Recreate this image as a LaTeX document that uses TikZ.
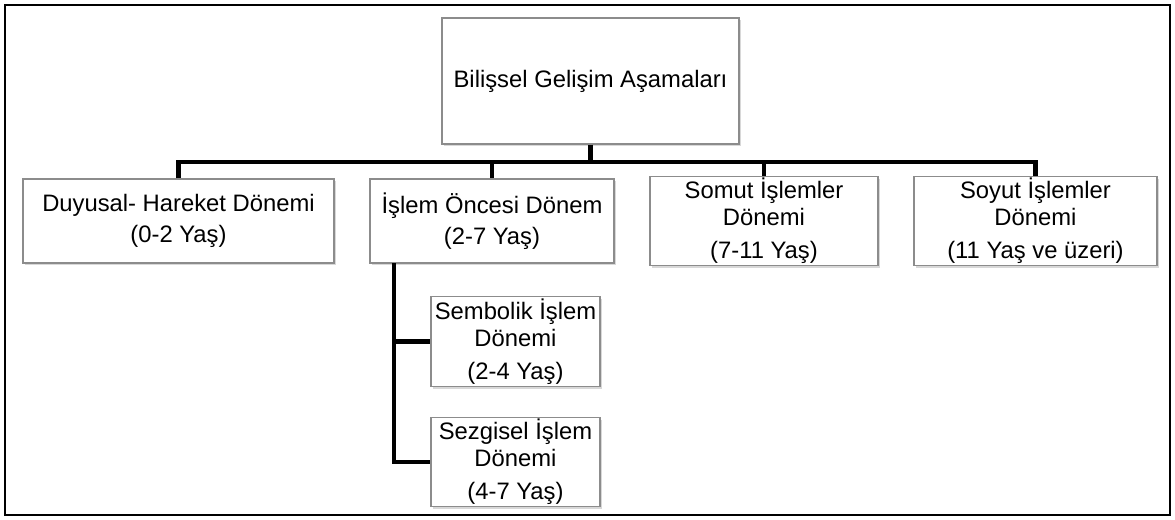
\documentclass[tikz,border=0pt]{standalone}
\usepackage{fontspec}
\setmainfont{Liberation Sans}
\usetikzlibrary{shadows}
\begin{document}
\begin{tikzpicture}[x=0.5pt,y=-0.5pt,
    box/.style={draw=black!45, line width=0.6pt, fill=white, align=center,
      inner sep=1pt, minimum height=42pt,
      font=\fontsize{11.9pt}{13.5pt}\selectfont,
      drop shadow={shadow xshift=0.8pt, shadow yshift=-1.2pt, fill=black!30}},
    conn/.style={line width=2.3pt}]
  \useasboundingbox (0,0) rectangle (1175,520);
  \draw[line width=1.2pt] (5,5) rectangle (1170,515);
  % boxes
  \node[box, minimum width=148.5pt, minimum height=63pt] (root) at (590.5,81)
    {Bilişsel Gelişim Aşamaları};
  \node[box, minimum width=155.5pt] (duy) at (178.5,221)
    {Duyusal- Hareket Dönemi\\[2pt](0-2 Yaş)};
  \node[box, minimum width=122pt] (isl) at (492,221)
    {İşlem Öncesi Dönem\\[2pt](2-7 Yaş)};
  \node[box, minimum width=114pt] (som) at (764,221)
    {Somut İşlemler\\Dönemi\\[3pt](7-11 Yaş)};
  \node[box, minimum width=121.5pt] (soy) at (1035.5,221)
    {Soyut İşlemler\\Dönemi\\[3pt](11 Yaş ve üzeri)};
  \node[box, minimum width=84.5pt, minimum height=41.5pt] (sem) at (515.5,341.5)
    {Sembolik İşlem\\Dönemi\\[3pt](2-4 Yaş)};
  \node[box, minimum width=84.5pt, minimum height=41pt] (sez) at (515.5,462)
    {Sezgisel İşlem\\Dönemi\\[3pt](4-7 Yaş)};
  \coordinate (bus) at (0,162);
  \coordinate (trunk) at (394,263);
  % connectors
  \begin{scope}[conn]
    \draw (root.south) -- (root.south |- bus);
    \draw (duy.north) -- (duy.north |- bus) -- (soy.north |- bus) -- (soy.north);
    \draw (isl.north |- bus) -- (isl.north);
    \draw (som.north |- bus) -- (som.north);
    \draw (trunk) |- (sez.west);
    \draw (trunk |- sem.west) -- (sem.west);
  \end{scope}
\end{tikzpicture}
\end{document}
